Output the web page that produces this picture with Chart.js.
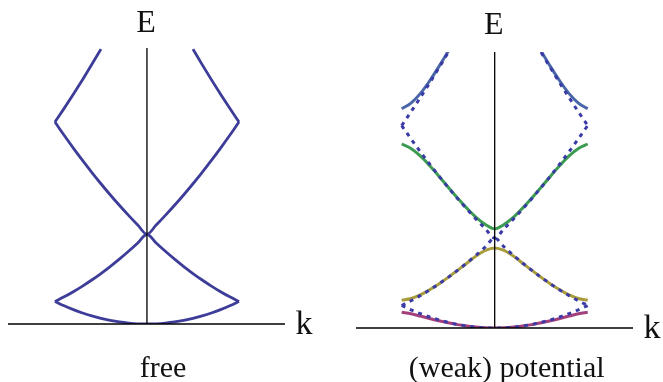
<!DOCTYPE html>
<html>
<head>
<meta charset="utf-8">
<script src="https://cdn.jsdelivr.net/npm/chart.js@4/dist/chart.umd.min.js"></script>
<style>
  html, body { margin: 0; padding: 0; background: #fff; }
  body { width: 663px; height: 382px; position: relative; overflow: hidden; }
  .panel { position: absolute; top: 0; height: 382px; }
  #free { left: 0; width: 331px; }
  #weak { left: 331px; width: 332px; }
</style>
</head>
<body>
<div class="panel" id="free"><canvas id="cFree" width="331" height="382"></canvas></div>
<div class="panel" id="weak"><canvas id="cWeak" width="332" height="382"></canvas></div>
<script>
// Crystal momentum across the first Brillouin zone (units of pi/a)
const kGrid = [-1, -0.9, -0.8, -0.7, -0.6, -0.5, -0.4, -0.3, -0.2, -0.1, 0,
               0.1, 0.2, 0.3, 0.4, 0.5, 0.6, 0.7, 0.8, 0.9, 1];

// Free-electron bands folded into the reduced zone
const freeBand1 = [1, 0.81, 0.64, 0.49, 0.36, 0.25, 0.16, 0.09, 0.04, 0.01, 0,
                   0.01, 0.04, 0.09, 0.16, 0.25, 0.36, 0.49, 0.64, 0.81, 1];
const freeBand2 = [1, 1.21, 1.44, 1.69, 1.96, 2.25, 2.56, 2.89, 3.24, 3.61, 4,
                   3.61, 3.24, 2.89, 2.56, 2.25, 1.96, 1.69, 1.44, 1.21, 1];
const freeBand3 = [9, 8.41, 7.84, 7.29, 6.76, 6.25, 5.76, 5.29, 4.84, 4.41, 4,
                   4.41, 4.84, 5.29, 5.76, 6.25, 6.76, 7.29, 7.84, 8.41, 9];
const freeBand4 = [9, 9.61, 10.24, 10.89, 11.56, 12.25, null, null, null, null, null,
                   null, null, null, null, 12.25, 11.56, 10.89, 10.24, 9.61, 9];

// Bands with a weak periodic potential (gaps open at k = 0 and the zone edge)
const weakBand1 = [0.7, 0.63, 0.53, 0.42, 0.32, 0.23, 0.15, 0.09, 0.04, 0.01, 0,
                   0.01, 0.04, 0.09, 0.15, 0.23, 0.32, 0.42, 0.53, 0.63, 0.7];
const weakBand2 = [1.23, 1.31, 1.47, 1.7, 1.96, 2.25, 2.56, 2.88, 3.2, 3.45, 3.56,
                   3.45, 3.2, 2.88, 2.56, 2.25, 1.96, 1.7, 1.47, 1.31, 1.23];
const weakBand3 = [8.18, 7.98, 7.65, 7.22, 6.75, 6.26, 5.78, 5.33, 4.92, 4.6, 4.41,
                   4.6, 4.92, 5.33, 5.78, 6.26, 6.75, 7.22, 7.65, 7.98, 8.18];
const weakBand4 = [9.75, 10, 10.42, 10.98, 11.62, 12.3, null, null, null, null, null,
                   null, null, null, null, 12.3, 11.62, 10.98, 10.42, 10, 9.75];

const FONT = '"Liberation Serif", "DejaVu Serif", serif';

function pts(values) {
  return kGrid.map((k, i) => ({ x: k, y: values[i] }));
}

function solid(values, color, width) {
  return {
    data: pts(values), showLine: true, borderColor: color, borderWidth: width,
    pointRadius: 0, cubicInterpolationMode: 'monotone', spanGaps: false, order: 1
  };
}

function dashed(values, color) {
  return {
    data: pts(values), showLine: true, borderColor: color, borderWidth: 3,
    borderDash: [4, 5], pointRadius: 0, cubicInterpolationMode: 'monotone',
    spanGaps: false, order: 0
  };
}

// Draws the E and k axes through the origin plus the axis letters and caption
function axesPlugin(cfg) {
  return {
    id: 'axesThroughOrigin',
    afterDatasetsDraw(chart) {
      const ctx = chart.ctx, a = chart.chartArea;
      const x0 = chart.scales.x.getPixelForValue(0);
      const y0 = chart.scales.y.getPixelForValue(0);
      ctx.save();
      ctx.strokeStyle = '#000';
      ctx.lineWidth = 1.3;
      ctx.beginPath();
      ctx.moveTo(a.left, y0); ctx.lineTo(a.right, y0);
      ctx.moveTo(x0, a.top); ctx.lineTo(x0, y0);
      ctx.stroke();

      ctx.fillStyle = '#111';
      ctx.textAlign = 'center';
      ctx.textBaseline = 'alphabetic';
      ctx.font = '32px ' + FONT;
      ctx.fillText('E', x0 + cfg.eDx, cfg.eBase);
      ctx.font = '34px ' + FONT;
      ctx.fillText('k', a.right + cfg.kDx, cfg.kBase);
      ctx.font = '30px ' + FONT;
      ctx.fillText(cfg.caption, x0 + cfg.capDx, cfg.capBase);
      ctx.restore();
    }
  };
}

function makeChart(canvasId, datasets, xMin, xMax, yMax, padding, cfg) {
  return new Chart(document.getElementById(canvasId), {
    type: 'scatter',
    data: { datasets },
    options: {
      responsive: false,
      animation: false,
      devicePixelRatio: 1,
      layout: { padding },
      plugins: { legend: { display: false }, tooltip: { enabled: false } },
      scales: {
        x: { type: 'linear', min: xMin, max: xMax, display: false },
        y: { type: 'linear', min: 0, max: yMax, display: false }
      }
    },
    plugins: [axesPlugin(cfg)]
  });
}

const freeColor = '#3d3d99';
makeChart('cFree', [
  solid(freeBand1, freeColor, 2.8),
  solid(freeBand2, freeColor, 2.8),
  solid(freeBand3, freeColor, 2.8),
  solid(freeBand4, freeColor, 2.8)
], -1.51, 1.50, 12.3,
  { left: 8, right: 46, top: 48, bottom: 58 },
  { caption: 'free', eDx: -1, eBase: 32, kDx: 19, kBase: 334, capDx: 16, capBase: 377 });

const dashColor = '#3b3ba8';
makeChart('cWeak', [
  dashed(freeBand1, dashColor),
  dashed(freeBand2, dashColor),
  dashed(freeBand3, dashColor),
  dashed(freeBand4, dashColor),
  solid(weakBand1, '#a3407c', 3),
  solid(weakBand2, '#a89c3c', 3),
  solid(weakBand3, '#3b9b50', 3),
  solid(weakBand4, '#4866a8', 3)
], -1.491, 1.487, 12.27,
  { left: 25, right: 30, top: 52, bottom: 54 },
  { caption: '(weak) potential', eDx: -1, eBase: 34, kDx: 19, kBase: 338, capDx: 12, capBase: 377 });
</script>
</body>
</html>
